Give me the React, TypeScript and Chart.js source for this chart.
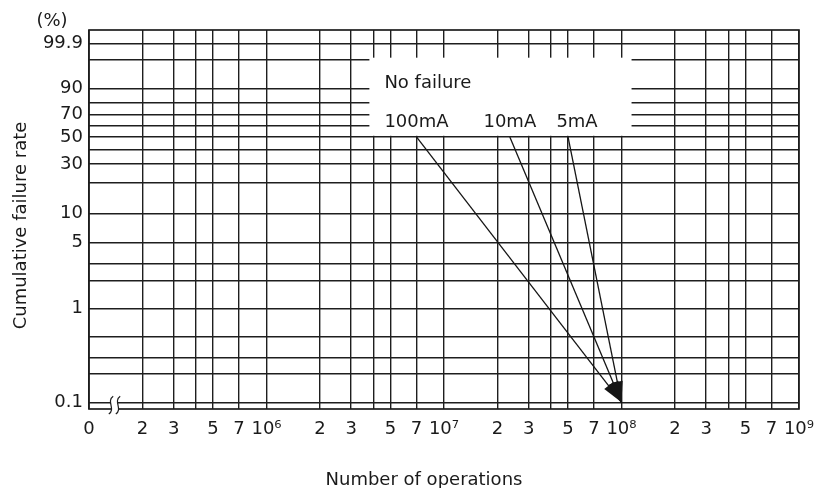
import React, { useEffect, useRef } from 'react';
import { Chart, registerables, Scale } from 'chart.js';

// ---------- data ----------
const X_MIN = 1e5;
const X_MAX = 1e9;
const X_TICK_VALUES = [
  1e5, 2e5, 3e5, 4e5, 5e5, 7e5,
  1e6, 2e6, 3e6, 4e6, 5e6, 7e6,
  1e7, 2e7, 3e7, 4e7, 5e7, 7e7,
  1e8, 2e8, 3e8, 4e8, 5e8, 7e8,
  1e9,
];
const X_TICK_LABELS = [
  '0', '2', '3', '', '5', '7',
  '10⁶', '2', '3', '', '5', '7',
  '10⁷', '2', '3', '', '5', '7',
  '10⁸', '2', '3', '', '5', '7',
  '10⁹',
];

const Y_MIN = 0.0848;
const Y_MAX = 99.99376;
const Y_TICK_VALUES = [0.1, 0.2, 0.3, 0.5, 1, 2, 3, 5, 10, 20, 30, 40, 50, 60, 70, 80, 90, 99, 99.9];
const Y_TICK_LABELS = ['0.1', '', '', '', '1', '', '', '5', '10', '', '30', '', '50', '', '70', '', '90', '', '99.9'];

const SERIES_NAMES = ['100mA', '10mA', '5mA'];
const START_OPERATIONS = [7e6, 2.35e7, 5e7];
const START_RATE = [50, 50, 50];
const END_OPERATIONS = [1e8, 1e8, 1e8];
const END_RATE = [0.1, 0.1, 0.1];

const NOTE_TITLE = 'No failure';
const NOTE_BOX_X = [3.8e6, 1.14e8];
const NOTE_BOX_Y = [51, 99.25];

const X_TITLE = 'Number of operations';
const Y_TITLE = 'Cumulative failure rate';
const Y_UNIT = '(%)';

// ---------- style ----------
const FONT = '"DejaVu Sans", "Liberation Sans", sans-serif';
const FONT_SIZE = 18;
const INK = '#1a1a1a';
const GRID = '#1e1e1e';
const LINE = '#151515';
const LABEL_NUDGE_X = [0, 0, 9];

// Weibull probability transform
const weib = (p: number) => Math.log(-Math.log(1 - p / 100));
const unweib = (w: number) => 100 * (1 - Math.exp(-Math.exp(w)));

class WeibullScale extends Scale {
  static id = 'weibull';
  static defaults = {};
  _wMin = 0;
  _wRange = 1;
  determineDataLimits() {
    this.min = (this as any).options.min;
    this.max = (this as any).options.max;
  }
  buildTicks() {
    return Y_TICK_VALUES.map((value) => ({ value }));
  }
  configure() {
    super.configure();
    this._wMin = weib(this.min);
    this._wRange = weib(this.max) - this._wMin;
  }
  getPixelForValue(value: number) {
    return this.getPixelForDecimal((weib(value) - this._wMin) / this._wRange);
  }
  getValueForPixel(pixel: number) {
    return unweib(this._wMin + this.getDecimalForPixel(pixel) * this._wRange);
  }
  getPixelForTick(index: number) {
    const t = this.ticks[index];
    return t ? this.getPixelForValue(t.value) : NaN;
  }
  getLabelForValue(value: number) {
    return String(value);
  }
}

Chart.register(...registerables, WeibullScale as any);

const xLabelFor = (v: number) => {
  const i = X_TICK_VALUES.findIndex((t) => Math.abs(t - v) / t < 1e-6);
  return i >= 0 ? X_TICK_LABELS[i] : '';
};

const decor = {
  id: 'decor',
  beforeDatasetsDraw(chart: any) {
    const { ctx, chartArea: a, scales } = chart;
    const x = scales.x;
    const y = scales.y;
    ctx.save();
    // white label box that hides the grid
    const bx0 = x.getPixelForValue(NOTE_BOX_X[0]);
    const bx1 = x.getPixelForValue(NOTE_BOX_X[1]);
    const by0 = y.getPixelForValue(NOTE_BOX_Y[1]);
    const by1 = y.getPixelForValue(NOTE_BOX_Y[0]);
    ctx.fillStyle = '#ffffff';
    ctx.fillRect(bx0, by0, bx1 - bx0, by1 - by0);
    // frame
    ctx.strokeStyle = GRID;
    ctx.lineWidth = 1.7;
    ctx.strokeRect(a.left, a.top, a.right - a.left, a.bottom - a.top);
    // axis break marks near the origin
    const yLow = y.getPixelForValue(Y_TICK_VALUES[0]);
    const c1 = a.left + 22;
    const c2 = a.left + 29;
    ctx.fillStyle = '#ffffff';
    ctx.fillRect(c1, yLow - 3, c2 - c1, a.bottom - yLow + 5);
    ctx.strokeStyle = GRID;
    ctx.lineWidth = 1.2;
    [c1, c2].forEach((cx) => {
      const t = yLow - 6;
      const b = a.bottom + 5;
      ctx.beginPath();
      ctx.moveTo(cx + 2.2, t);
      ctx.bezierCurveTo(cx - 5, t + 5, cx + 5, b - 5, cx - 2.2, b);
      ctx.stroke();
    });
    ctx.restore();
  },
  afterDatasetsDraw(chart: any) {
    const { ctx, scales } = chart;
    const x = scales.x;
    const y = scales.y;
    ctx.save();
    // arrowheads
    ctx.fillStyle = LINE;
    SERIES_NAMES.forEach((_, i) => {
      const sx = x.getPixelForValue(START_OPERATIONS[i]);
      const sy = y.getPixelForValue(START_RATE[i]);
      const ex = x.getPixelForValue(END_OPERATIONS[i]);
      const ey = y.getPixelForValue(END_RATE[i]);
      const len = Math.hypot(ex - sx, ey - sy);
      const ux = (ex - sx) / len;
      const uy = (ey - sy) / len;
      const L = 21;
      const W = 5.5;
      const bx = ex - ux * L;
      const by = ey - uy * L;
      ctx.beginPath();
      ctx.moveTo(ex, ey);
      ctx.lineTo(bx - uy * W, by + ux * W);
      ctx.lineTo(bx + uy * W, by - ux * W);
      ctx.closePath();
      ctx.fill();
    });
    // labels
    ctx.fillStyle = INK;
    ctx.font = `${FONT_SIZE}px ${FONT}`;
    ctx.textBaseline = 'alphabetic';
    ctx.textAlign = 'center';
    SERIES_NAMES.forEach((name, i) => {
      const sx = x.getPixelForValue(START_OPERATIONS[i]);
      const sy = y.getPixelForValue(START_RATE[i]);
      ctx.fillText(name, sx + LABEL_NUDGE_X[i], sy - 9.5);
    });
    const s0x = x.getPixelForValue(START_OPERATIONS[0]);
    const s0y = y.getPixelForValue(START_RATE[0]);
    const w0 = ctx.measureText(SERIES_NAMES[0]).width;
    ctx.textAlign = 'left';
    ctx.fillText(NOTE_TITLE, s0x - w0 / 2, s0y - 48.5);
    ctx.restore();
  },
  afterDraw(chart: any) {
    const { ctx, chartArea: a } = chart;
    ctx.save();
    ctx.fillStyle = INK;
    ctx.font = `${FONT_SIZE}px ${FONT}`;
    // x title
    ctx.textAlign = 'center';
    ctx.textBaseline = 'alphabetic';
    ctx.fillText(X_TITLE, (a.left + a.right) / 2 - 20, a.bottom + 76);
    // y title
    ctx.save();
    ctx.translate(a.left - 63, (a.top + a.bottom) / 2 + 6);
    ctx.rotate(-Math.PI / 2);
    ctx.fillText(Y_TITLE, 0, 0);
    ctx.restore();
    // unit
    ctx.textBaseline = 'middle';
    ctx.fillText(Y_UNIT, a.left - 37, a.top - 9);
    ctx.restore();
  },
};

export default function App() {
  const ref = useRef<HTMLCanvasElement>(null);
  useEffect(() => {
    document.body.style.margin = '0';
    const canvas = ref.current;
    if (!canvas) return;
    const tickFont = { family: FONT, size: FONT_SIZE };
    const chart = new Chart(canvas, {
      type: 'line',
      data: {
        datasets: SERIES_NAMES.map((name, i) => ({
          label: name,
          data: [
            { x: START_OPERATIONS[i], y: START_RATE[i] },
            { x: END_OPERATIONS[i], y: END_RATE[i] },
          ],
          borderColor: LINE,
          borderWidth: 1.3,
          pointRadius: 0,
          fill: false,
          tension: 0,
        })),
      },
      options: {
        responsive: false,
        animation: false,
        layout: { padding: { top: 30, right: 22, left: 0, bottom: 0 } },
        plugins: {
          legend: { display: false },
          tooltip: { enabled: false },
          title: { display: false },
        },
        scales: {
          x: {
            type: 'logarithmic',
            min: X_MIN,
            max: X_MAX,
            afterBuildTicks: (s: any) => {
              s.ticks = X_TICK_VALUES.map((value) => ({ value }));
            },
            afterFit: (s: any) => {
              s.height = 79;
            },
            grid: { color: GRID, lineWidth: 1.4, drawTicks: false },
            border: { display: false },
            ticks: {
              autoSkip: false,
              maxRotation: 0,
              minRotation: 0,
              padding: 10,
              color: INK,
              font: tickFont,
              callback: (v: any) => xLabelFor(Number(v)),
            },
          },
          y: {
            type: 'weibull' as any,
            min: Y_MIN,
            max: Y_MAX,
            afterFit: (s: any) => {
              s.width = 89;
            },
            grid: { color: GRID, lineWidth: 1.4, drawTicks: false },
            border: { display: false },
            ticks: {
              autoSkip: false,
              padding: 6,
              color: INK,
              font: tickFont,
              callback: (_v: any, i: number) => Y_TICK_LABELS[i],
            },
          } as any,
        },
      },
      plugins: [decor],
    } as any);
    return () => chart.destroy();
  }, []);
  return (
    <div style={{ width: 824, height: 488, background: '#ffffff' }}>
      <canvas ref={ref} width={824} height={488} style={{ display: 'block' }} />
    </div>
  );
}
